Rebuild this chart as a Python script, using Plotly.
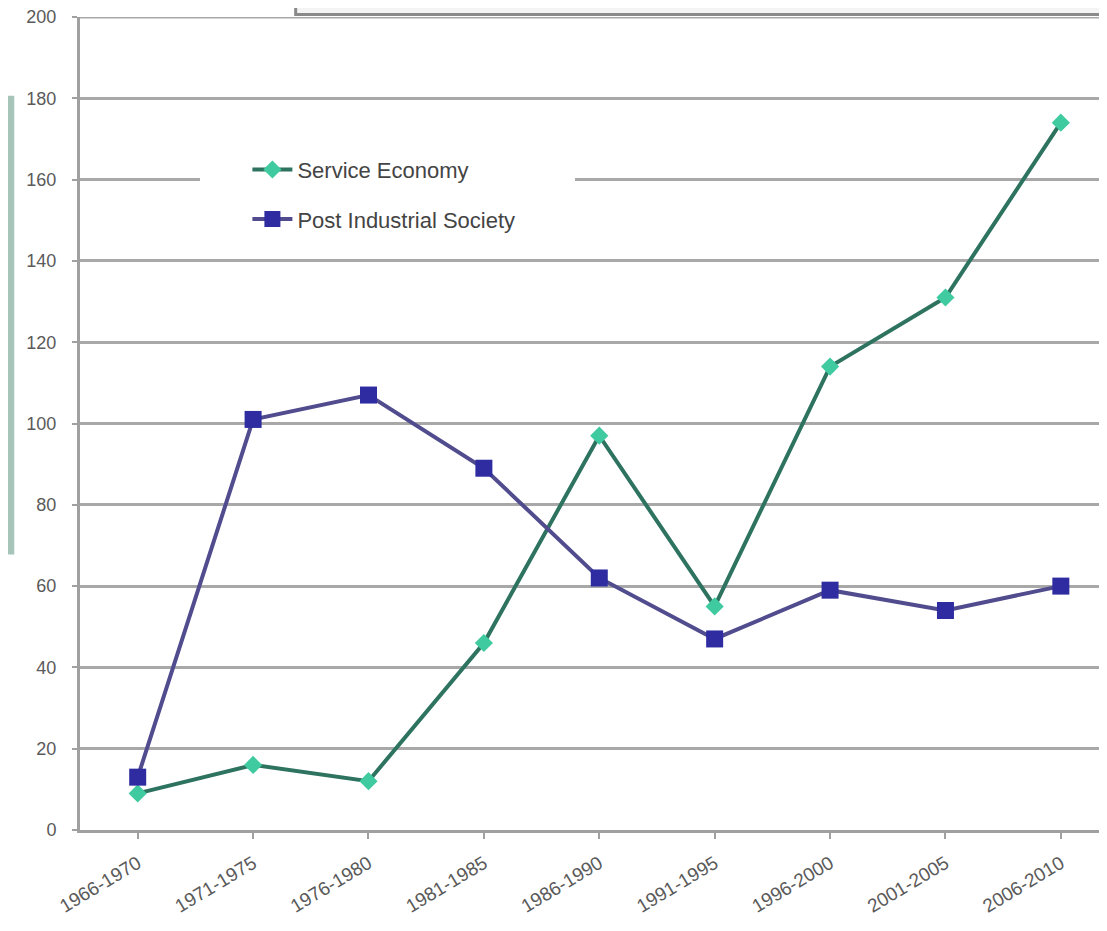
import plotly.graph_objects as go

periods = ["1966-1970", "1971-1975", "1976-1980", "1981-1985", "1986-1990",
           "1991-1995", "1996-2000", "2001-2005", "2006-2010"]
service_economy = [9, 16, 12, 46, 97, 55, 114, 131, 174]
post_industrial = [13, 101, 107, 89, 62, 47, 59, 54, 60]
y_ticks = [0, 20, 40, 60, 80, 100, 120, 140, 160, 180, 200]

xpos = list(range(len(periods)))

fig = go.Figure()
fig.add_trace(go.Scatter(
    x=xpos, y=service_economy, name="Service Economy",
    mode="lines+markers", legendgroup="a",
    line=dict(color="#2d735f", width=4),
    marker=dict(symbol="diamond", size=14, color="#3fcaa0",
                line=dict(width=0)),
))
fig.add_trace(go.Scatter(
    x=xpos, y=post_industrial, name="Post Industrial Society",
    mode="lines+markers", legendgroup="b",
    line=dict(color="#514c8e", width=4),
    marker=dict(symbol="square", size=17, color="#2e2ca0",
                line=dict(width=0)),
))

# white backing behind the legend (hides the gridline)
fig.add_shape(type="rect", xref="x", yref="y", x0=0.54, x1=3.79, y0=146, y1=170,
              fillcolor="white", line=dict(width=0), layer="between")
# top gridline at 200
fig.add_shape(type="line", xref="paper", yref="y", x0=0, x1=1, y0=200, y1=200,
              line=dict(color="#a8a8a8", width=3), layer="between")
# partial title box at top
fig.add_shape(type="rect", xref="paper", yref="paper", x0=0.21, x1=1.02, y0=1.003, y1=1.05,
              fillcolor="#f4f4f4", line=dict(color="#8a8a8a", width=3), layer="above")
# slide strip on the left
fig.add_shape(type="rect", xref="paper", yref="paper", x0=-0.078, x1=-0.064, y0=0.339, y1=0.903,
              fillcolor="#a6c4b8", line=dict(width=0), layer="above")

fig.update_layout(
    width=1099, height=915,
    margin=dict(l=72, r=0, t=9, b=93, autoexpand=False),
    paper_bgcolor="white", plot_bgcolor="white",
    font=dict(family="Liberation Sans, Arial, sans-serif", color="#5a5a5a", size=17),
    showlegend=True,
    legend=dict(x=0.163, y=0.838, xanchor="left", yanchor="top",
                bgcolor="rgba(0,0,0,0)", font=dict(size=22, color="#444444"),
                itemwidth=40, tracegroupgap=18),
    xaxis=dict(
        tickmode="array", tickvals=xpos, ticktext=periods,
        range=[-0.5, 8.4], tickangle=-31, automargin=False,
        showgrid=False, showline=True, linecolor="#a0a0a0", linewidth=3,
        ticks="outside", ticklen=6, tickcolor="#a0a0a0", tickwidth=2,
        tickson="boundaries",
        tickfont=dict(size=19, color="#5a5a5a"), zeroline=False,
        ticklabelstandoff=6, ticklabeloverflow="allow",
    ),
    yaxis=dict(
        range=[0, 200], tickvals=y_ticks, automargin=False,
        showgrid=True, gridcolor="#a8a8a8", gridwidth=3,
        showline=True, linecolor="#a0a0a0", linewidth=3,
        ticks="outside", ticklen=5, tickcolor="#a0a0a0", tickwidth=2,
        tickfont=dict(size=18, color="#5a5a5a"), zeroline=False,
        ticklabelstandoff=12, ticklabeloverflow="allow",
    ),
)

fig.write_html("out.html")
